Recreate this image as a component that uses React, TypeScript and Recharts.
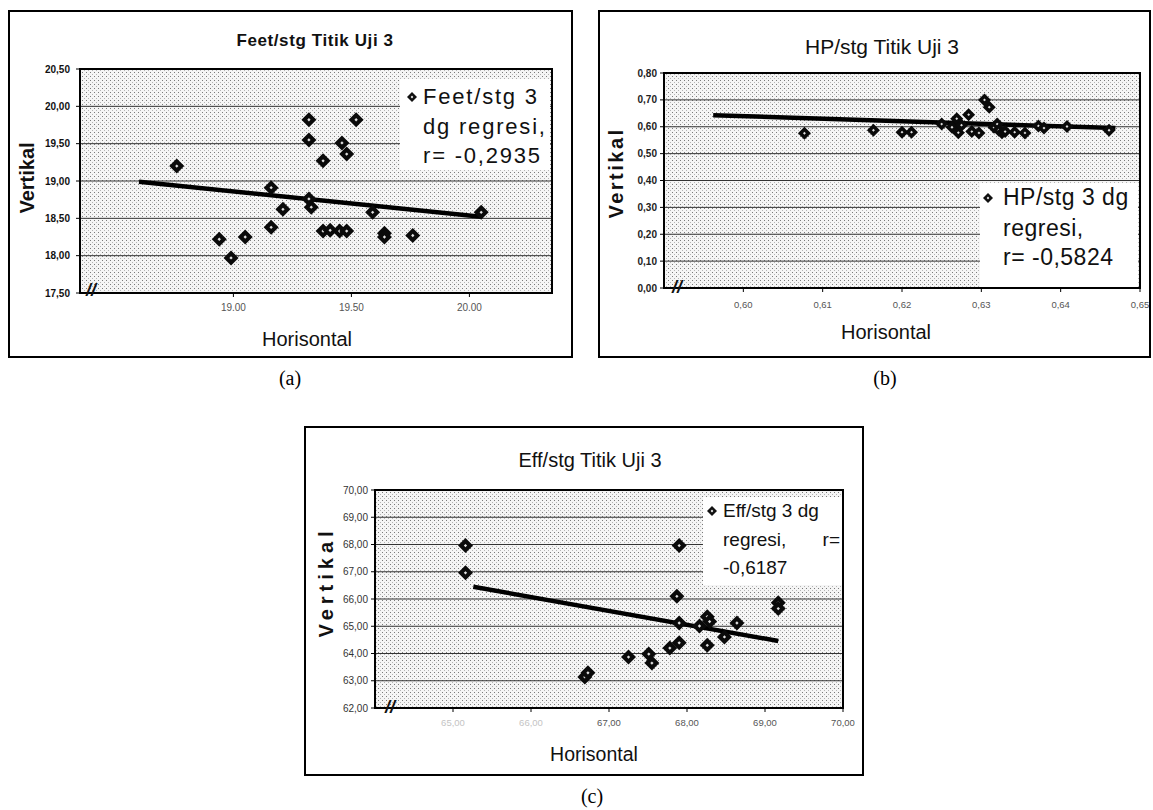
import React from "react";
import {
  ScatterChart,
  Scatter,
  XAxis,
  YAxis,
  CartesianGrid,
  ReferenceArea,
  Legend,
} from "recharts";

const FONT = '"Liberation Sans", Arial, sans-serif';
const SERIF = '"Liberation Serif", "Times New Roman", serif';

// (a) Feet/stg Titik Uji 3
const feetX = [18.76, 18.94, 18.99, 19.05, 19.16, 19.16, 19.21, 19.32, 19.32, 19.32, 19.33, 19.38, 19.38, 19.41, 19.45, 19.46, 19.48, 19.48, 19.52, 19.59, 19.64, 19.64, 19.76, 20.05];
const feetY = [19.2, 18.22, 17.97, 18.25, 18.38, 18.91, 18.62, 19.82, 19.55, 18.76, 18.65, 19.27, 18.33, 18.34, 18.33, 19.51, 19.36, 18.33, 19.82, 18.58, 18.3, 18.25, 18.27, 18.58];
const feetTrendX = [18.6, 20.05];
const feetTrendY = [18.99, 18.52];
const feetXTicks = [19, 19.5, 20];
const feetYTicks = [17.5, 18, 18.5, 19, 19.5, 20, 20.5];
const feetLegend = [["Feet/stg 3"], ["dg regresi,"], ["r= -0,2935"]];

// (b) HP/stg Titik Uji 3
const hpX = [0.6077, 0.6164, 0.62, 0.6212, 0.625, 0.6263, 0.6269, 0.6271, 0.6275, 0.6284, 0.6288, 0.6297, 0.6304, 0.631, 0.6316, 0.632, 0.6322, 0.6326, 0.633, 0.6342, 0.6355, 0.6372, 0.6379, 0.6408, 0.6461];
const hpY = [0.576, 0.587, 0.58, 0.58, 0.61, 0.598, 0.63, 0.578, 0.606, 0.645, 0.582, 0.577, 0.7, 0.673, 0.598, 0.61, 0.587, 0.578, 0.582, 0.58, 0.577, 0.603, 0.595, 0.601, 0.587];
const hpTrendX = [0.5962, 0.6469];
const hpTrendY = [0.643, 0.595];
const hpXTicks = [0.6, 0.61, 0.62, 0.63, 0.64, 0.65];
const hpYTicks = [0, 0.1, 0.2, 0.3, 0.4, 0.5, 0.6, 0.7, 0.8];
const hpLegend = [["HP/stg 3 dg"], ["regresi,"], ["r= -0,5824"]];

// (c) Eff/stg Titik Uji 3
const effX = [65.16, 65.16, 66.69, 66.73, 67.25, 67.51, 67.55, 67.78, 67.87, 67.9, 67.9, 67.9, 68.16, 68.26, 68.29, 68.26, 68.48, 68.64, 69.17, 69.17];
const effY = [67.96, 66.96, 63.14, 63.29, 63.87, 63.98, 63.65, 64.2, 66.1, 67.96, 65.12, 64.39, 65.01, 65.35, 65.17, 64.3, 64.61, 65.12, 65.86, 65.65];
const effTrendX = [65.26, 69.17];
const effTrendY = [66.45, 64.46];
const effXTicks = [65, 66, 67, 68, 69, 70];
const effYTicks = [62, 63, 64, 65, 66, 67, 68, 69, 70];
const effLegend = [["Eff/stg 3 dg"], ["regresi,", "r="], ["-0,6187"]];

const toPoints = (xs: number[], ys: number[]) => xs.map((x, i) => ({ x, y: ys[i] }));
const comma = (v: number) => v.toFixed(2).replace(".", ",");
const dot = (v: number) => v.toFixed(2);

const diamond = (cx: number, cy: number, r: number) =>
  `${cx},${cy - r} ${cx + r},${cy} ${cx},${cy + r} ${cx - r},${cy}`;

const makeMarker = (r: number) => (props: any) => {
  const { cx, cy } = props;
  if (cx == null || cy == null) return <g />;
  return (
    <g>
      <polygon points={diamond(cx, cy, r)} fill="#0a0a0a" />
      <polygon points={diamond(cx, cy, r * 0.22)} fill="#e0e0e0" />
    </g>
  );
};

const NoDot = () => <g />;

const FaintTick = (props: any) => {
  const { x, y, payload } = props;
  const v = payload.value as number;
  return (
    <text x={x} y={y} dy="0.71em" textAnchor="middle" fontSize={9.5} fontFamily={FONT} fill={v < 66.5 ? "#c4c4c4" : "#555"}>
      {comma(v)}
    </text>
  );
};

type LegendCfg = {
  left: number;
  top: number;
  width: number;
  height: number;
  lines: string[][];
  fontSize: number;
  spacing: number;
  markerX: number;
  textX: number;
  centers: number[];
};

function LegendBox({ cfg }: { cfg: LegendCfg }) {
  return (
    <div style={{ position: "relative", width: cfg.width, height: cfg.height, background: "#fff", fontFamily: FONT, color: "#111" }}>
      <svg width={12} height={12} style={{ position: "absolute", left: cfg.markerX - 6, top: cfg.centers[0] - 6 }}>
        <polygon points={diamond(6, 6, 5)} fill="#111" />
        <circle cx={6} cy={6} r={1.2} fill="#ccc" />
      </svg>
      {cfg.lines.map((segs, i) => (
        <div
          key={i}
          style={{
            position: "absolute",
            left: cfg.textX,
            right: segs.length > 1 ? 2 : undefined,
            top: cfg.centers[i] - cfg.fontSize * 0.6,
            fontSize: cfg.fontSize,
            lineHeight: `${cfg.fontSize * 1.2}px`,
            letterSpacing: cfg.spacing,
            whiteSpace: "pre",
            display: "flex",
            justifyContent: "space-between",
          }}
        >
          {segs.map((s, j) => (
            <span key={j}>{s}</span>
          ))}
        </div>
      ))}
    </div>
  );
}

type PanelProps = {
  box: { left: number; top: number; width: number; height: number };
  margin: { top: number; right: number; bottom: number; left: number };
  yWidth: number;
  xDomain: [number, number];
  yDomain: [number, number];
  xTicks: number[];
  yTicks: number[];
  xFmt: (v: number) => string;
  yFmt: (v: number) => string;
  xTick: any;
  yTick: any;
  xTickMargin: number;
  yTickMargin: number;
  points: { x: number; y: number }[];
  trend: { x: number; y: number }[];
  r: number;
  name: string;
  legend: LegendCfg;
};

function Panel(p: PanelProps) {
  const w = p.box.width - 4;
  const h = p.box.height - 4;
  return (
    <div style={{ position: "absolute", left: p.box.left, top: p.box.top, width: p.box.width, height: p.box.height, border: "2px solid #000", boxSizing: "border-box", background: "#fff" }}>
      <ScatterChart width={w} height={h} margin={p.margin}>
        <CartesianGrid horizontal vertical={false} stroke="#333" strokeWidth={1} fill="url(#halftone)" fillOpacity={1} />
        <XAxis
          type="number"
          dataKey="x"
          domain={p.xDomain}
          ticks={p.xTicks}
          tickFormatter={p.xFmt}
          allowDataOverflow
          height={25}
          tick={p.xTick}
          tickSize={4}
          tickMargin={p.xTickMargin}
          axisLine={{ stroke: "#000", strokeWidth: 2 }}
          tickLine={{ stroke: "#000" }}
        />
        <YAxis
          type="number"
          dataKey="y"
          domain={p.yDomain}
          ticks={p.yTicks}
          tickFormatter={p.yFmt}
          allowDataOverflow
          width={p.yWidth}
          tick={p.yTick}
          tickSize={4}
          tickMargin={p.yTickMargin}
          axisLine={{ stroke: "#000", strokeWidth: 2 }}
          tickLine={{ stroke: "#000" }}
        />
        <ReferenceArea x1={p.xDomain[0]} x2={p.xDomain[1]} y1={p.yDomain[0]} y2={p.yDomain[1]} fill="none" fillOpacity={0} stroke="#000" strokeWidth={2} />
        <Scatter name={p.name + " trend"} data={p.trend} line={{ stroke: "#000", strokeWidth: 4.5 }} shape={NoDot} legendType="none" isAnimationActive={false} />
        <Scatter name={p.name} data={p.points} shape={makeMarker(p.r)} isAnimationActive={false} />
        <Legend
          layout="vertical"
          align="center"
          verticalAlign="middle"
          wrapperStyle={{ left: p.legend.left, top: p.legend.top, width: p.legend.width, height: p.legend.height }}
          content={() => <LegendBox cfg={p.legend} />}
        />
      </ScatterChart>
    </div>
  );
}

const abs = (left: number, top: number, style: React.CSSProperties, text: string, rotate = false) => (
  <div
    style={{
      position: "absolute",
      left,
      top,
      transform: `translate(-50%, -50%)${rotate ? " rotate(-90deg)" : ""}`,
      whiteSpace: "nowrap",
      color: "#111",
      fontFamily: FONT,
      lineHeight: 1,
      ...style,
    }}
  >
    {text}
  </div>
);

export default function App() {
  return (
    <div style={{ position: "absolute", left: 0, top: 0, width: 1153, height: 810, background: "#fff", overflow: "hidden" }}>
      <svg width={0} height={0} style={{ position: "absolute" }}>
        <defs>
          <pattern id="halftone" width={4} height={4} patternUnits="userSpaceOnUse">
            <rect width={4} height={4} fill="#f5f5f5" />
            <rect x={0} y={0} width={1} height={1} fill="#7a7a7a" />
            <rect x={2} y={2} width={1} height={1} fill="#b4b4b4" />
          </pattern>
        </defs>
      </svg>

      <Panel
        box={{ left: 8, top: 10, width: 565, height: 348 }}
        margin={{ top: 57, right: 19, bottom: 38, left: 25 }}
        yWidth={45}
        xDomain={[18.35, 20.35]}
        yDomain={[17.5, 20.5]}
        xTicks={feetXTicks}
        yTicks={feetYTicks}
        xFmt={dot}
        yFmt={comma}
        xTick={{ fontSize: 10, fill: "#555", fontFamily: FONT }}
        yTick={{ fontSize: 10, fontWeight: 700, fill: "#111", fontFamily: FONT }}
        xTickMargin={7}
        yTickMargin={6}
        points={toPoints(feetX, feetY)}
        trend={toPoints(feetTrendX, feetTrendY)}
        r={7.5}
        name="Feet/stg 3 dg regresi, r= -0,2935"
        legend={{ left: 390, top: 67, width: 150, height: 91, lines: feetLegend, fontSize: 22, spacing: 1.8, markerX: 12, textX: 23, centers: [18, 48, 77] }}
      />

      <Panel
        box={{ left: 598, top: 10, width: 553, height: 348 }}
        margin={{ top: 61, right: 9, bottom: 43, left: 24 }}
        yWidth={40}
        xDomain={[0.59, 0.65]}
        yDomain={[0, 0.8]}
        xTicks={hpXTicks}
        yTicks={hpYTicks}
        xFmt={comma}
        yFmt={comma}
        xTick={{ fontSize: 9.5, fill: "#555", fontFamily: FONT }}
        yTick={{ fontSize: 10, fontWeight: 700, fill: "#222", fontFamily: FONT }}
        xTickMargin={9}
        yTickMargin={3}
        points={toPoints(hpX, hpY)}
        trend={toPoints(hpTrendX, hpTrendY)}
        r={6.5}
        name="HP/stg 3 dg regresi, r= -0,5824"
        legend={{ left: 380, top: 171, width: 158, height: 104, lines: hpLegend, fontSize: 23, spacing: 0.5, markerX: 8, textX: 23, centers: [15, 46, 75] }}
      />

      <Panel
        box={{ left: 304, top: 426, width: 560, height: 350 }}
        margin={{ top: 62, right: 19, bottom: 41, left: 29 }}
        yWidth={40}
        xDomain={[64, 70]}
        yDomain={[62, 70]}
        xTicks={effXTicks}
        yTicks={effYTicks}
        xFmt={comma}
        yFmt={comma}
        xTick={FaintTick}
        yTick={{ fontSize: 10, fill: "#333", fontFamily: FONT }}
        xTickMargin={7}
        yTickMargin={3}
        points={toPoints(effX, effY)}
        trend={toPoints(effTrendX, effTrendY)}
        r={7.5}
        name="Eff/stg 3 dg regresi, r= -0,6187"
        legend={{ left: 397, top: 69, width: 139, height: 88, lines: effLegend, fontSize: 19, spacing: 0, markerX: 9, textX: 20, centers: [14, 43, 71] }}
      />

      {/* titles */}
      {abs(315, 40, { fontSize: 17, fontWeight: 700, letterSpacing: 0.6 }, "Feet/stg Titik Uji 3")}
      {abs(882, 46, { fontSize: 21 }, "HP/stg Titik Uji 3")}
      {abs(590, 460, { fontSize: 20 }, "Eff/stg Titik Uji 3")}

      {/* axis titles */}
      {abs(307, 339, { fontSize: 20 }, "Horisontal")}
      {abs(886, 332, { fontSize: 20 }, "Horisontal")}
      {abs(594, 755, { fontSize: 19.5 }, "Horisontal")}
      {abs(27, 178, { fontSize: 20, fontWeight: 700 }, "Vertikal", true)}
      {abs(616, 173, { fontSize: 20, fontWeight: 700, letterSpacing: 2.5 }, "Vertikal", true)}
      {abs(326, 582, { fontSize: 20, fontWeight: 700, letterSpacing: 5 }, "Vertikal", true)}

      {/* axis break marks */}
      {abs(91, 290, { fontSize: 18, fontStyle: "italic", fontWeight: 700 }, "//")}
      {abs(677, 287, { fontSize: 18, fontStyle: "italic", fontWeight: 700 }, "//")}
      {abs(390, 707, { fontSize: 18, fontStyle: "italic", fontWeight: 700 }, "//")}

      {/* panel captions */}
      {abs(290, 378, { fontSize: 20, fontFamily: SERIF, color: "#000" }, "(a)")}
      {abs(885, 378, { fontSize: 20, fontFamily: SERIF, color: "#000" }, "(b)")}
      {abs(592, 796, { fontSize: 20, fontFamily: SERIF, color: "#000" }, "(c)")}
    </div>
  );
}
